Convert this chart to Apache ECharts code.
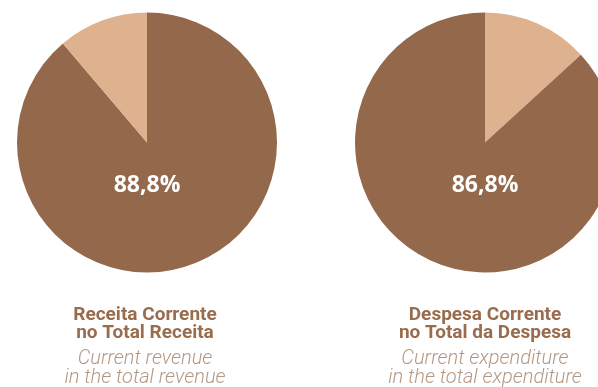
<!DOCTYPE html>
<html>
<head>
<meta charset="utf-8">
<style>
  html, body { margin: 0; padding: 0; background: #fff; }
  #chart { width: 598px; height: 387px; }
</style>
<script src="https://cdn.jsdelivr.net/npm/echarts@6/dist/echarts.min.js"></script>
</head>
<body>
<div id="chart"></div>
<script>
// Share of current items in the totals (percent)
const revenueShares = [
  { name: 'Receita Corrente', value: 88.8, main: true },
  { name: 'Outras', value: 11.2 }
];
const expenditureShares = [
  { name: 'Outras', value: 13.2 },
  { name: 'Despesa Corrente', value: 86.8, main: true }
];
const revenueTitle = ['Receita Corrente', 'no Total Receita'];
const revenueSubtitle = ['Current revenue', 'in the total revenue'];
const expenditureTitle = ['Despesa Corrente', 'no Total da Despesa'];
const expenditureSubtitle = ['Current expenditure', 'in the total expenditure'];

const DARK = '#93684b';
const LIGHT = '#dfb28f';

function pieData(list) {
  return list.map(d => ({
    name: d.name,
    value: d.value,
    itemStyle: { color: d.main ? DARK : LIGHT },
    label: { show: !!d.main }
  }));
}

function pieSeries(list, cx) {
  return {
    type: 'pie',
    center: [cx, 142.5],
    radius: [0, 130],
    startAngle: 90,
    clockwise: true,
    silent: true,
    animation: false,
    itemStyle: { borderWidth: 0 },
    label: {
      position: 'center',
      offset: [0, 42.5],
      color: '#ffffff',
      fontFamily: 'Open Sans',
      fontWeight: 'bold',
      fontSize: 23,
      formatter: p => p.value.toFixed(1).replace('.', ',') + '%'
    },
    labelLine: { show: false },
    emphasis: { disabled: true },
    data: pieData(list)
  };
}

function caption(cx, bold, italic) {
  const items = [];
  bold.forEach((t, i) => items.push({
    type: 'text', x: cx, y: 315 + i * 18.5,
    style: { text: t, textAlign: 'center', textVerticalAlign: 'middle',
      fill: '#9a6c4e', font: 'bold 19px Roboto' }
  }));
  italic.forEach((t, i) => items.push({
    type: 'text', x: cx, y: 359 + i * 19,
    style: { text: t, textAlign: 'center', textVerticalAlign: 'middle',
      fill: '#b39884', font: 'italic 300 20px Roboto' }
  }));
  return items;
}

const chart = echarts.init(document.getElementById('chart'), null, { renderer: 'canvas' });
chart.setOption({
  animation: false,
  backgroundColor: '#ffffff',
  series: [
    pieSeries(revenueShares, 147),
    pieSeries(expenditureShares, 485)
  ],
  graphic: [
    ...caption(145, revenueTitle, revenueSubtitle),
    ...caption(485, expenditureTitle, expenditureSubtitle)
  ]
});
</script>
</body>
</html>
